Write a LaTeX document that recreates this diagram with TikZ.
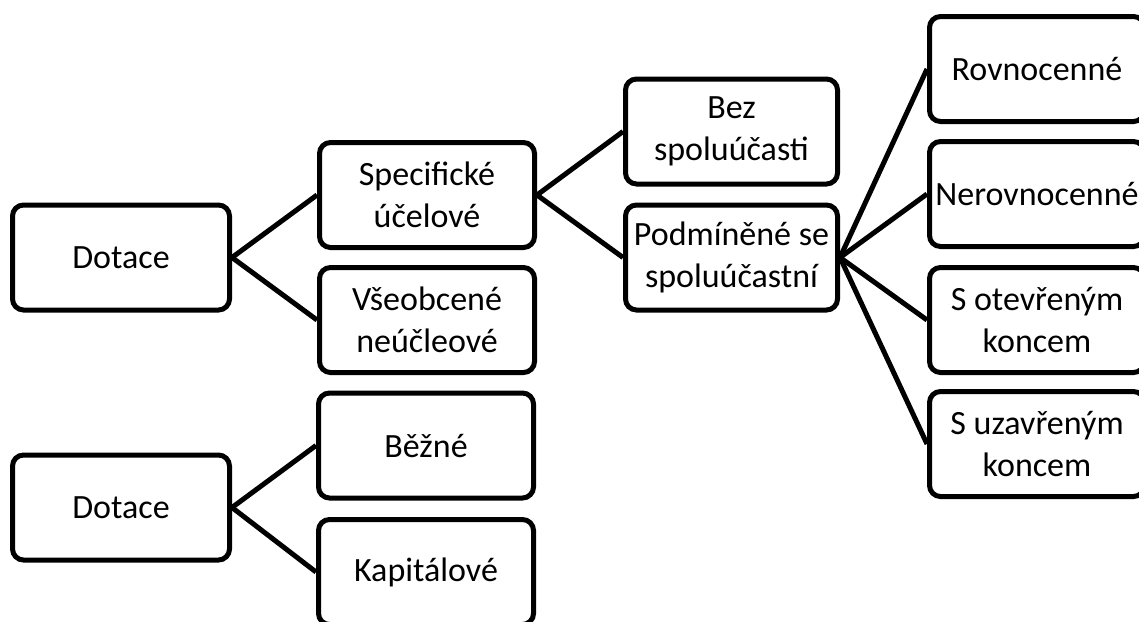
\documentclass[tikz,border=0pt]{standalone}
\usepackage{fontspec}
\setmainfont{Carlito}
\begin{document}
\begin{tikzpicture}[x=1pt,y=-1pt,
  box/.style={draw=black, line width=5pt, rounded corners=11pt, fill=white,
    minimum width=215pt, minimum height=105pt, align=center, inner sep=0pt,
    font=\fontsize{34}{42}\selectfont},
  link/.style={draw=black, line width=5pt}]
\useasboundingbox (0,0) rectangle (1139,621);
\clip (0,0) rectangle (1139,621);
% column 1
\node[box, minimum width=217pt] (d1) at (121,257.5) {Dotace};
\node[box, minimum width=217pt] (d2) at (121,507.5) {Dotace};
% column 2
\node[box] (spec) at (427,195) {Specifické\\účelové};
\node[box] (vseo) at (427,320) {Všeobcené\\neúčleové};
\node[box] (bezne) at (426,445.5) {Běžné};
\node[box] (kap) at (426,572) {Kapitálové};
% column 3
\node[box, minimum width=212pt] (bez) at (731.5,131.5) {Bez\\spoluúčasti};
\node[box, minimum width=212pt] (podm) at (731.5,257.5) {Podmíněné se\\spoluúčastní};
% column 4
\node[box] (rov) at (1037,69) {Rovnocenné};
\node[box] (nerov) at (1037,194) {Nerovnocenné};
\node[box] (sot) at (1037,320) {S otevřeným\\koncem};
\node[box] (suz) at (1037,444) {S uzavřeným\\koncem};
% connectors
\draw[link] (d1.east) -- (spec.west);
\draw[link] (d1.east) -- (vseo.west);
\draw[link] (d2.east) -- (bezne.west);
\draw[link] (d2.east) -- (kap.west);
\draw[link] (spec.east) -- (bez.west);
\draw[link] (spec.east) -- (podm.west);
\draw[link] (podm.east) -- (rov.west);
\draw[link] (podm.east) -- (nerov.west);
\draw[link] (podm.east) -- (sot.west);
\draw[link] (podm.east) -- (suz.west);
\end{tikzpicture}
\end{document}
